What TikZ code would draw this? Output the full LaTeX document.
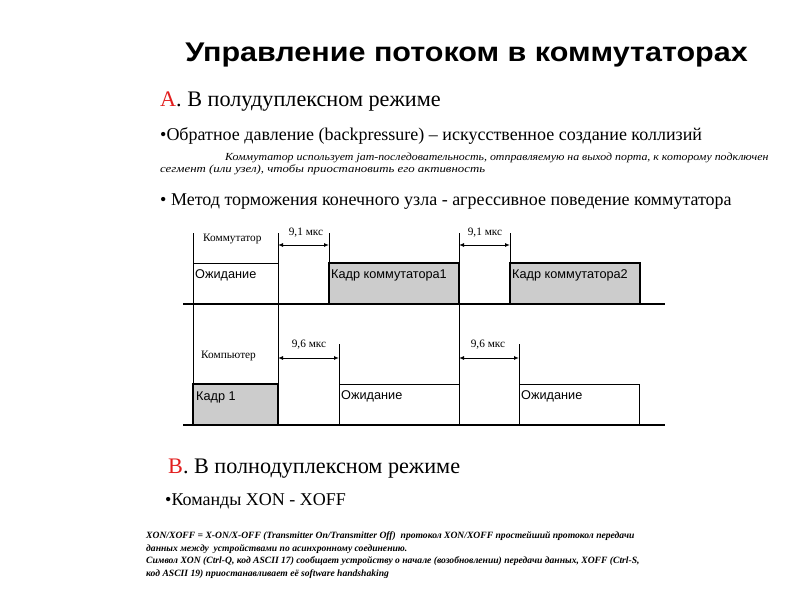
\documentclass[tikz,border=0pt]{standalone}
\usepackage{fontspec}
\usepackage{graphicx}
\setmainfont{Liberation Serif}
\newfontfamily\arialf{Liberation Sans}
\usetikzlibrary{arrows.meta}
\definecolor{hdred}{RGB}{226,30,30}
\definecolor{boxgray}{RGB}{204,204,204}
\begin{document}
\begin{tikzpicture}[x=1pt,y=-1pt,
  txt/.style={anchor=base west,inner sep=0pt},
  mid/.style={anchor=base,inner sep=0pt},
  big/.style={font=\fontsize{22.2}{26}\selectfont},
  body/.style={font=\fontsize{18}{21}\selectfont},
  note/.style={font=\itshape\fontsize{12}{14}\selectfont},
  bnote/.style={font=\bfseries\itshape\fontsize{9.6}{12}\selectfont},
  small/.style={font=\fontsize{11.3}{13}\selectfont},
  lbl/.style={font=\arialf\fontsize{12.7}{15}\selectfont},
  tl/.style={line width=1pt},
  base/.style={line width=1.6pt},
  graybox/.style={fill=boxgray,draw=black,line width=2.4pt},
  dim/.style={line width=1pt,{Latex[length=5pt,width=4pt]}-{Latex[length=5pt,width=4pt]}}
]
\useasboundingbox (0,0) rectangle (800,600);

\node[mid,font=\arialf\bfseries\fontsize{27}{32}\selectfont] (title) at (466.5,61) {\scalebox{1.13}[1]{Управление потоком в коммутаторах}};

\node[txt,big] (secA) at (160,106) {\textcolor{hdred}{А}. В полудуплексном режиме};
\node[txt,body] (bp) at (160,140) {•Обратное давление (backpressure) – искусственное создание коллизий};
\node[txt,note] (n1) at (225,160) {\scalebox{0.99}[0.9]{Коммутатор использует jam-последовательность, отправляемую на выход порта, к которому подключен}};
\node[txt,note] (n2) at (160,172) {\scalebox{1.07}[0.9]{сегмент (или узел), чтобы приостановить его активность}};
\node[txt,body] (mt) at (160,205) {• Метод торможения конечного узла - агрессивное поведение коммутатора};

% switch timeline
\draw[tl] (193,233) -- (193,425);
\draw[tl] (278,233) -- (278,425);
\draw[tl] (459,233) -- (459,425);
\draw[tl] (329,233) -- (329,263);
\draw[tl] (510,233) -- (510,263);
\draw[tl] (193,263) -- (278,263);
\draw[base] (183,304) -- (665,304);
\draw[graybox] (329,263) rectangle (459,304);
\draw[graybox] (510,263) rectangle (640,304);

\node[txt,small] (sw) at (203,241) {Коммутатор};
\coordinate (d1a) at (278,245); \coordinate (d1b) at (329,245);
\coordinate (d2a) at (459,245); \coordinate (d2b) at (510,245);
\draw[dim] (d1a) -- (d1b);
\draw[dim] (d2a) -- (d2b);
\node[mid,small] (l1) at (306,235) {9,1 мкс};
\node[mid,small] (l2) at (485,235) {9,1 мкс};
\node[txt,lbl] (w1) at (195,278) {Ожидание};
\node[txt,lbl] (k1) at (331,278) {Кадр коммутатора1};
\node[txt,lbl] (k2) at (512,278) {Кадр коммутатора2};

% computer timeline
\draw[tl] (339,344) -- (339,425);
\draw[tl] (519,344) -- (519,425);
\draw[tl] (339,384) -- (459,384);
\draw[tl] (519,384) -- (639,384) -- (639,425);
\draw[base] (183,425) -- (665,425);
\draw[line width=2.4pt] (339,425) -- (459,425);
\draw[line width=2.4pt] (519,425) -- (639,425);
\draw[graybox] (193,384) rectangle (278,425);

\node[txt,small] (pc) at (201,358) {Компьютер};
\coordinate (d3a) at (278,358); \coordinate (d3b) at (339,358);
\coordinate (d4a) at (459,358); \coordinate (d4b) at (519,358);
\draw[dim] (d3a) -- (d3b);
\draw[dim] (d4a) -- (d4b);
\node[mid,small] (l3) at (309,347) {9,6 мкс};
\node[mid,small] (l4) at (488,347) {9,6 мкс};
\node[txt,lbl] (f1) at (196,400) {Кадр 1};
\node[txt,lbl] (w2) at (341,399) {Ожидание};
\node[txt,lbl] (w3) at (521,399) {Ожидание};

\node[txt,big] (secB) at (168,473) {\textcolor{hdred}{В}. В полнодуплексном режиме};
\node[txt,body] (xon) at (165,505) {•Команды XON - XOFF};

\node[txt,bnote] (b1) at (146,538) {XON/XOFF = X-ON/X-OFF (Transmitter On/Transmitter Off)\ \ протокол XON/XOFF простейший протокол передачи};
\node[txt,bnote] (b2) at (146,551) {данных между\ \ устройствами по асинхронному соединению.};
\node[txt,bnote] (b3) at (146,563) {Символ XON (Ctrl-Q, код ASCII 17) сообщает устройству о начале (возобновлении) передачи данных, XOFF (Ctrl-S,};
\node[txt,bnote] (b4) at (146,576) {код ASCII 19) приостанавливает её software handshaking};
\end{tikzpicture}
\end{document}
